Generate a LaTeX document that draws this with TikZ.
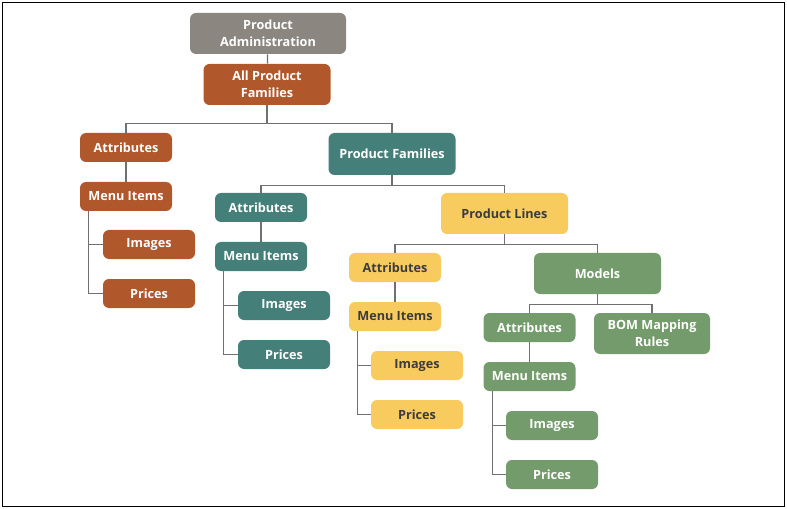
\documentclass[tikz,border=0pt]{standalone}
\usepackage{fontspec}
\setmainfont{Open Sans}
\usetikzlibrary{positioning}
\definecolor{stone}{HTML}{8B8680}
\definecolor{rust}{HTML}{B0572B}
\definecolor{teal}{HTML}{457F7A}
\definecolor{sand}{HTML}{F8CB5F}
\definecolor{sage}{HTML}{739B6B}
\definecolor{wire}{HTML}{707070}
\definecolor{ink}{HTML}{3C3C3C}
\begin{document}
\begin{tikzpicture}[x=0.75pt, y=-0.75pt,
	box/.style={rounded corners=4.5pt, inner sep=0pt, align=center,
		font=\fontsize{9.5}{12.5}\selectfont\bfseries, text=white},
	small/.style={box, minimum width=69pt, minimum height=21.75pt},
	large/.style={box, minimum width=95.25pt, minimum height=30.75pt},
	stonebox/.style={fill=stone},
	rustbox/.style={fill=rust},
	tealbox/.style={fill=teal},
	sandbox/.style={fill=sand, text=ink},
	sagebox/.style={fill=sage},
	link/.style={draw=wire, line width=0.9pt}]
	% 画布与外框
	\useasboundingbox (0,0) rectangle (787,509);
	\draw[black, line width=0.8pt] (2.5,2.5) rectangle (784.5,506.5);
	
	% 顶层
	\node[large, stonebox, minimum width=117pt] (padm) at (268,33.5) {Product\\Administration};
	\node[large, rustbox] (allpf) at (267,84.5) {All Product\\Families};
	
	% 左侧:所有产品族
	\node[small, rustbox] (attr1) at (126,147.5) {Attributes};
	\node[small, rustbox] (menu1) at (126,196.5) {Menu Items};
	\node[small, rustbox] (img1) at (149,244.5) {Images};
	\node[small, rustbox] (price1) at (149,293.5) {Prices};
	
	% 产品族
	\node[large, tealbox, minimum height=31.5pt] (pfam) at (392,154) {Product Families};
	\node[small, tealbox] (attr2) at (261,207.5) {Attributes};
	\node[small, tealbox] (menu2) at (261,256.5) {Menu Items};
	\node[small, tealbox] (img2) at (284,305.5) {Images};
	\node[small, tealbox] (price2) at (284,354.5) {Prices};
	
	% 产品线
	\node[large, sandbox] (pline) at (504.5,213.5) {Product Lines};
	\node[small, sandbox] (attr3) at (395,267.5) {Attributes};
	\node[small, sandbox] (menu3) at (395,316.5) {Menu Items};
	\node[small, sandbox] (img3) at (417,365.5) {Images};
	\node[small, sandbox] (price3) at (417,414.5) {Prices};
	
	% 型号
	\node[large, sagebox] (model) at (597.5,273.5) {Models};
	\node[small, sagebox] (attr4) at (529.5,327.5) {Attributes};
	\node[large, sagebox, minimum width=87pt] (bom) at (652,333.5) {BOM Mapping\\Rules};
	\node[small, sagebox] (menu4) at (529.5,376.5) {Menu Items};
	\node[small, sagebox] (img4) at (552,425.5) {Images};
	\node[small, sagebox] (price4) at (552,474.5) {Prices};
	
	% 连线
	\draw[link] (padm) -- (allpf);
	\draw[link] (allpf.south) -- ++(0,18) coordinate (j1);
	\draw[link] (j1) -| (attr1.north);
	\draw[link] (j1) -| (pfam.north);
	\draw[link] (pfam.south) -- ++(0,10) coordinate (j2);
	\draw[link] (j2) -| (attr2.north);
	\draw[link] (j2) -| (pline.north);
	\draw[link] (pline.south) -- ++(0,10) coordinate (j3);
	\draw[link] (j3) -| (attr3.north);
	\draw[link] (j3) -| (model.north);
	\draw[link] (model.south) -- ++(0,10) coordinate (j4);
	\draw[link] (j4) -| (attr4.north);
	\draw[link] (j4) -| (bom.north);
	
	\foreach \i in {1,2,3,4}{
		\draw[link] (attr\i) -- (menu\i);
		\draw[link] ([xshift=6.75pt]menu\i.south west) |- (img\i.west);
		\draw[link] ([xshift=6.75pt]menu\i.south west) |- (price\i.west);
	}
\end{tikzpicture}
\end{document}
